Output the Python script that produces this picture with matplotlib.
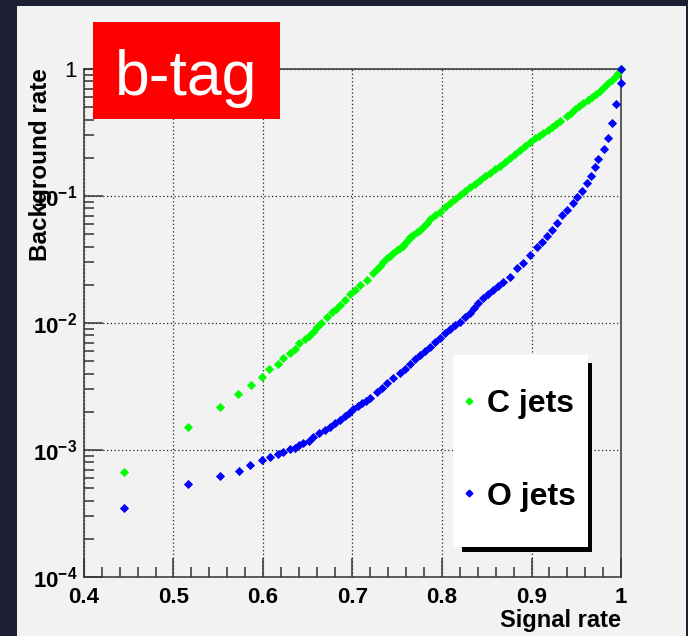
import matplotlib
matplotlib.use('Agg')
import matplotlib.pyplot as plt
from matplotlib.patches import Rectangle
from matplotlib.lines import Line2D
from matplotlib.ticker import MultipleLocator, LogLocator, NullFormatter

plt.rcParams['font.family'] = ['Liberation Sans', 'DejaVu Sans']
plt.rcParams['mathtext.fontset'] = 'custom'
plt.rcParams['mathtext.rm'] = 'Liberation Sans:bold'
plt.rcParams['mathtext.bf'] = 'Liberation Sans:bold'

# values (signal efficiency, background rate)
c_eff = [0.4450, 0.5165, 0.5520, 0.5724, 0.5863, 0.5985, 0.6070, 0.6164, 0.6220,
         0.6302, 0.6361, 0.6406, 0.6469, 0.6517, 0.6562, 0.6607, 0.6645, 0.6712,
         0.6768, 0.6816, 0.6860, 0.6916, 0.6972, 0.7028, 0.7084, 0.7159, 0.7232,
         0.7270, 0.7307, 0.7344, 0.7382, 0.7419, 0.7456, 0.7494, 0.7531, 0.7559,
         0.7587, 0.7615, 0.7642, 0.7679, 0.7717, 0.7754, 0.7791, 0.7827, 0.7866,
         0.7922, 0.7978, 0.8033, 0.8089, 0.8145, 0.8201, 0.8257, 0.8313, 0.8369,
         0.8425, 0.8480, 0.8536, 0.8592, 0.8648, 0.8704, 0.8760, 0.8816, 0.8871,
         0.8927, 0.8983, 0.9039, 0.9084, 0.9132, 0.9179, 0.9226, 0.9274, 0.9318,
         0.9393, 0.9441, 0.9486, 0.9531, 0.9579, 0.9626, 0.9673, 0.9721, 0.9765,
         0.9810, 0.9858, 0.9894, 0.9933, 0.9966, 1.0]
c_bkg = [6.75e-4, 1.509e-3, 2.192e-3, 2.746e-3, 3.250e-3, 3.736e-3, 4.319e-3, 4.78e-3, 5.27e-3,
         5.81e-3, 6.28e-3, 6.92e-3, 7.44e-3, 7.90e-3, 8.54e-3, 9.30e-3, 9.95e-3, 1.109e-2,
         1.214e-2, 1.289e-2, 1.393e-2, 1.517e-2, 1.683e-2, 1.819e-2, 1.992e-2, 2.181e-2, 2.490e-2,
         2.647e-2, 2.810e-2, 3.011e-2, 3.231e-2, 3.381e-2, 3.538e-2, 3.723e-2, 3.917e-2, 4.076e-2,
         4.242e-2, 4.479e-2, 4.73e-2, 4.949e-2, 5.18e-2, 5.446e-2, 5.73e-2, 6.131e-2, 6.55e-2,
         7.022e-2, 7.52e-2, 8.16e-2, 8.86e-2, 9.49e-2, 0.1018, 0.1091, 0.1171, 0.1250,
         0.1337, 0.1427, 0.1526, 0.1620, 0.1722, 0.1845, 0.1981, 0.2134, 0.2303,
         0.2480, 0.2677, 0.2847, 0.2979, 0.3117, 0.3310, 0.3513, 0.3695, 0.3896,
         0.4265, 0.4529, 0.4817, 0.5086, 0.5370, 0.5670, 0.5987, 0.6357, 0.6748,
         0.7216, 0.7716, 0.8147, 0.8603, 0.9267, 1.0]

o_eff = [0.4450, 0.5165, 0.5520, 0.5728, 0.5858, 0.5985, 0.6075, 0.6164, 0.6223,
         0.6302, 0.6357, 0.6402, 0.6450, 0.6514, 0.6562, 0.6626, 0.6693, 0.6749,
         0.6804, 0.6860, 0.6916, 0.6961, 0.7009, 0.7056, 0.7103, 0.7151, 0.7196,
         0.7270, 0.7326, 0.7382, 0.7456, 0.7531, 0.7587, 0.7642, 0.7698, 0.7754,
         0.7810, 0.7866, 0.7922, 0.7978, 0.8033, 0.8089, 0.8145, 0.8201, 0.8257,
         0.8313, 0.8358, 0.8406, 0.8461, 0.8517, 0.8573, 0.8629, 0.8685, 0.8760,
         0.8835, 0.8908, 0.8983, 0.9058, 0.9114, 0.9170, 0.9226, 0.9282, 0.9337,
         0.9400, 0.9460, 0.9512, 0.9561, 0.9617, 0.9661, 0.9709, 0.9746, 0.9810,
         0.9851, 0.9903, 0.9944, 0.9997, 1.0]
o_bkg = [3.475e-4, 5.40e-4, 6.24e-4, 6.87e-4, 7.62e-4, 8.34e-4, 8.76e-4, 9.25e-4, 9.70e-4,
         1.018e-3, 1.042e-3, 1.089e-3, 1.129e-3, 1.184e-3, 1.273e-3, 1.354e-3, 1.437e-3, 1.526e-3,
         1.623e-3, 1.732e-3, 1.852e-3, 1.966e-3, 2.092e-3, 2.208e-3, 2.332e-3, 2.440e-3, 2.554e-3,
         2.877e-3, 3.105e-3, 3.351e-3, 3.676e-3, 4.04e-3, 4.38e-3, 4.755e-3, 5.16e-3, 5.60e-3,
         6.04e-3, 6.51e-3, 7.06e-3, 7.66e-3, 8.27e-3, 8.92e-3, 9.56e-3, 1.024e-2, 1.111e-2,
         1.205e-2, 1.313e-2, 1.429e-2, 1.565e-2, 1.686e-2, 1.819e-2, 1.963e-2, 2.114e-2, 2.315e-2,
         2.696e-2, 2.984e-2, 3.43e-2, 3.945e-2, 4.367e-2, 4.869e-2, 5.40e-2, 6.10e-2, 7.09e-2,
         7.76e-2, 8.86e-2, 9.87e-2, 0.1101, 0.1259, 0.1437, 0.1683, 0.1945, 0.2358,
         0.2847, 0.3777, 0.5302, 0.780, 1.0]

x_ticks = [0.4, 0.5, 0.6, 0.7, 0.8, 0.9, 1.0]
x_labels = ['0.4', '0.5', '0.6', '0.7', '0.8', '0.9', '1']
y_ticks = [1e-4, 1e-3, 1e-2, 1e-1, 1]
y_labels = [r'$10^{-4}$', r'$10^{-3}$', r'$10^{-2}$', r'$10^{-1}$', '1']

W, H = 688, 636
fig = plt.figure(figsize=(W / 100, H / 100), dpi=100, facecolor='#1d1f33')
# light panel behind the plot
fig.add_artist(Rectangle((17 / W, 0), (686 - 17) / W, 1 - 6 / H,
                         transform=fig.transFigure, facecolor='#f2f2f2',
                         edgecolor='none', zorder=-1))

ax = fig.add_axes([84 / W, 1 - 577 / H, 537 / W, 508 / H])
ax.set_facecolor('#f2f2f2')
ax.set_yscale('log')
ax.set_xlim(0.4, 1.0)
ax.set_ylim(1e-4, 1)

ax.plot(c_eff, c_bkg, 'D', color='#00ff00', ms=4.3, mew=0.6, ls='none', clip_on=False, zorder=3)
ax.plot(o_eff, o_bkg, 'D', color='#0000ff', ms=4.3, mew=0.6, ls='none', clip_on=False, zorder=4)

ax.grid(True, which='major', ls=(0, (1, 2)), color='#222222', lw=0.9)

ax.set_xticks(x_ticks, x_labels, fontweight='bold', fontsize=16)
ax.set_yticks(y_ticks, y_labels, fontsize=16)
ax.xaxis.set_minor_locator(MultipleLocator(0.02))
ax.yaxis.set_minor_locator(LogLocator(base=10, subs=range(2, 10)))
ax.yaxis.set_minor_formatter(NullFormatter())
ax.tick_params(which='major', direction='in', length=14, width=1.1, color='#333333',
               top=False, right=False)
ax.tick_params(which='minor', direction='in', length=7, width=1.1, color='#333333',
               top=False, right=False)
ax.tick_params(axis='x', pad=7)
ax.tick_params(axis='y', pad=5)
for s in ax.spines.values():
    s.set_linewidth(1.1)
    s.set_color('#333333')

fig.text(621 / W, 1 - 620 / H, 'Signal rate', ha='right', va='center',
         fontsize=17, fontweight='bold')
fig.text(41 / W, 1 - 68 / H, 'Background rate', rotation=90, ha='center', va='top',
         fontsize=17.5, fontweight='bold')

# b-tag box
fig.add_artist(Rectangle((93 / W, 1 - 119 / H), (280 - 93) / W, (119 - 22) / H,
                         transform=fig.transFigure, facecolor='#ff0000',
                         edgecolor='none', zorder=6))
fig.text(186 / W, 1 - 95 / H, 'b-tag', ha='center', va='baseline',
         fontsize=45, color='white', zorder=7)

# legend box with shadow
fig.add_artist(Rectangle((462 / W, 1 - 552 / H), 130 / W, 189 / H,
                         transform=fig.transFigure, facecolor='black',
                         edgecolor='none', zorder=3))
fig.add_artist(Rectangle((453 / W, 1 - 547 / H), 135 / W, 192 / H,
                         transform=fig.transFigure, facecolor='white',
                         edgecolor='none', zorder=4))
handles = [Line2D([], [], marker='D', color='#00ff00', ls='none', ms=3.4),
           Line2D([], [], marker='D', color='#0000ff', ls='none', ms=3.4)]
fig.legend(handles, ['C jets', 'O jets'], loc='center',
           bbox_to_anchor=(520.5 / W, 1 - 450.5 / H), frameon=False,
           prop={'size': 23, 'weight': 'bold'}, labelspacing=1.95,
           handlelength=0.2, handletextpad=0.47, borderpad=0)

fig.savefig('out.png', dpi=100, facecolor=fig.get_facecolor())
